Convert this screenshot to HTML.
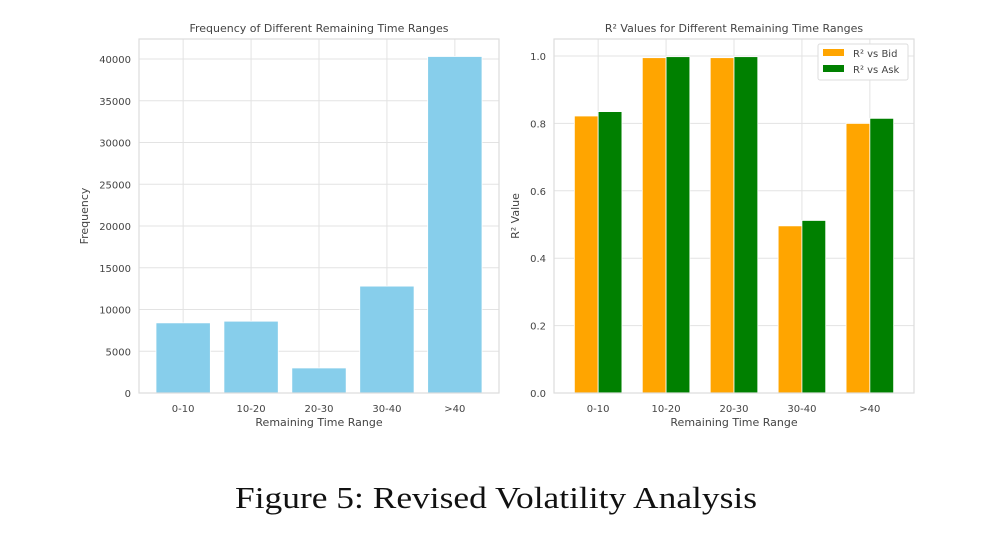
<!DOCTYPE html>
<html><head><meta charset="utf-8"><style>
body{margin:0;background:#fff;width:988px;height:546px;overflow:hidden}
svg text{font-family:"DejaVu Sans","Liberation Sans",sans-serif;fill:#444}
</style></head><body>
<svg width="988" height="546">
<g id="left"></g>
<g id="right"></g>
<text x="235" y="508" textLength="522" lengthAdjust="spacingAndGlyphs" style="font-family:'Liberation Serif',serif;font-size:31px;fill:#111">Figure 5: Revised Volatility Analysis</text>
</svg>
<script>
const categories=["0-10","10-20","20-30","30-40",">40"];
const freqValues=[8400,8600,3000,12800,40300];
const freqTicks=[0,5000,10000,15000,20000,25000,30000,35000,40000];
const bidValues=[0.822,0.995,0.995,0.496,0.800];
const askValues=[0.835,0.998,0.998,0.512,0.815];
const r2Ticks=[0,0.2,0.4,0.6,0.8,1.0];
const NS="http://www.w3.org/2000/svg";
function mk(p,t,a,txt){const e=document.createElementNS(NS,t);for(const k in a)e.setAttribute(k,a[k]);if(txt!==undefined)e.textContent=txt;p.appendChild(e);return e;}
function axes(g,x0,x1,y0,y1,ymax,ticks,fmt,title,ylab,n,fs){
 const ys=v=>y1-(v/ymax)*(y1-y0);
 const step=(x1-x0)/(n-1+1.3);const xs=i=>x0+step*(0.65+i);
 for(const t of ticks){const l=mk(g,'line',{x1:x0,x2:x1,y1:ys(t),y2:ys(t),stroke:'#e3e3e3','stroke-width':1});
 
 const tx=mk(g,'text',{x:x0-8,y:ys(t)+4,'text-anchor':'end','font-size':10},fmt(t));
 }
 categories.forEach((c,i)=>{const l=mk(g,'line',{x1:xs(i),x2:xs(i),y1:y0,y2:y1,stroke:'#e3e3e3','stroke-width':1});
 
 const tx=mk(g,'text',{x:xs(i),y:y1+19,'text-anchor':'middle','font-size':10},c);
 });
 const t=mk(g,'text',{x:(x0+x1)/2,y:y0-7,'text-anchor':'middle','font-size':11},title);
 
 const xl=mk(g,'text',{x:(x0+x1)/2,y:y1+33,'text-anchor':'middle','font-size':11},'Remaining Time Range');
 
 const yl=mk(g,'text',{x:0,y:0,'text-anchor':'middle','font-size':11,transform:`translate(${fs},${(y0+y1)/2}) rotate(-90)`},ylab);
 
 return {xs,ys,step};
}
const L=document.getElementById('left');
const la=axes(L,139,499,39,393,(393-39)/(393-59)*40000,freqTicks,v=>String(v),'Frequency of Different Remaining Time Ranges','Frequency',5,88);
freqValues.forEach((v,i)=>{const w=la.step*0.8;const r=mk(L,'rect',{x:la.xs(i)-w/2,y:la.ys(v),width:w,height:393-la.ys(v),fill:'#87ceeb',stroke:'#fff','stroke-width':0.8});
});
mk(L,'rect',{x:139,y:39,width:360,height:354,fill:'none',stroke:'#ddd','stroke-width':1.2});
const R=document.getElementById('right');
const ra=axes(R,554,914,39,393,(393-39)/(393-56),r2Ticks,v=>v.toFixed(1),'R² Values for Different Remaining Time Ranges','R² Value',5,519);
categories.forEach((c,i)=>{const w=ra.step*0.35;
 const b=mk(R,'rect',{x:ra.xs(i)-w,y:ra.ys(bidValues[i]),width:w,height:393-ra.ys(bidValues[i]),fill:'#ffa500',stroke:'#fff','stroke-width':0.8});
 
 const a=mk(R,'rect',{x:ra.xs(i),y:ra.ys(askValues[i]),width:w,height:393-ra.ys(askValues[i]),fill:'#008000',stroke:'#fff','stroke-width':0.8});
 });
mk(R,'rect',{x:554,y:39,width:360,height:354,fill:'none',stroke:'#ddd','stroke-width':1.2});
const lg=mk(R,'g',{});

mk(lg,'rect',{x:818,y:44,width:90,height:36,fill:'#fff',stroke:'#ddd',rx:2});
[['#ffa500','R² vs Bid'],['#008000','R² vs Ask']].forEach((d,k)=>{
 const e=mk(lg,'g',{});
 mk(e,'rect',{x:823,y:49+k*16,width:21,height:7,fill:d[0]});
 mk(e,'text',{x:853,y:57+k*16,'font-size':10},d[1]);});
</script>
</body></html>
